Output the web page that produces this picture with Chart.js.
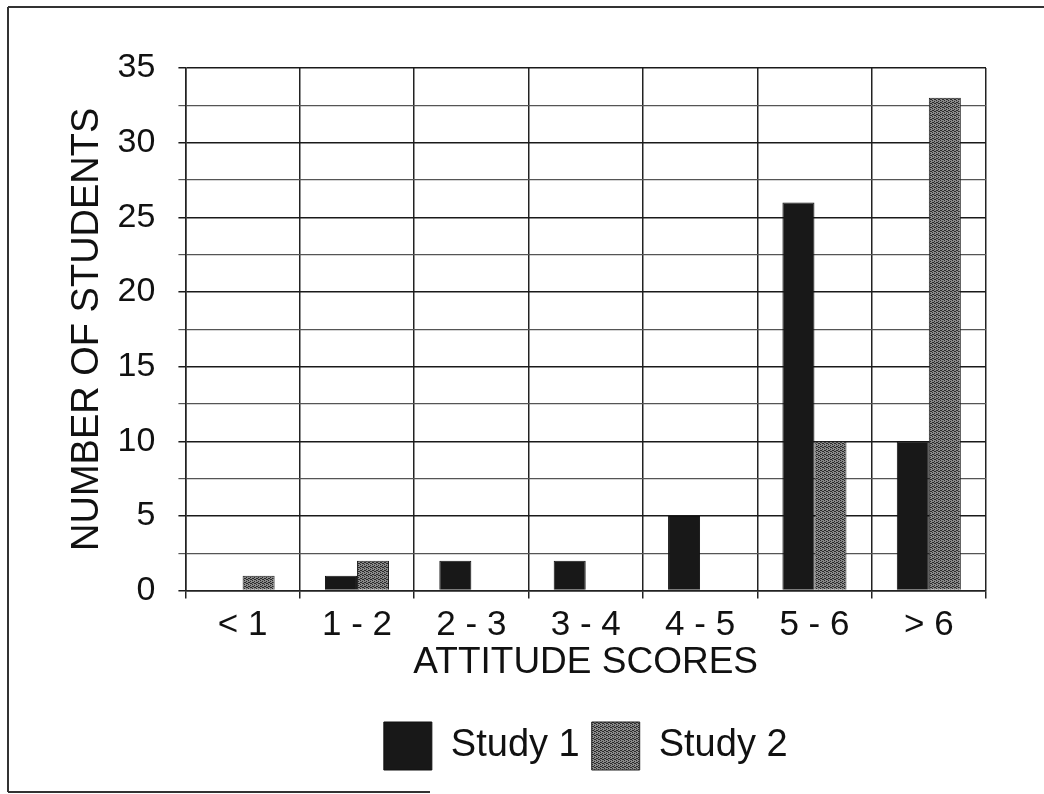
<!DOCTYPE html>
<html>
<head>
<meta charset="utf-8">
<script src="https://cdn.jsdelivr.net/npm/chart.js@4.4.1/dist/chart.umd.min.js"></script>
<style>
  html, body { margin: 0; padding: 0; background: #fff; }
  #wrap { position: relative; width: 1044px; height: 794px; }
  canvas { display: block; }
</style>
</head>
<body>
<div id="wrap"><canvas id="c" width="1044" height="794"></canvas></div>
<script>
const categories = ['< 1', '1 - 2', '2 - 3', '3 - 4', '4 - 5', '5 - 6', '> 6'];
const study1 = [0, 1, 2, 2, 5, 26, 10];
const study2 = [1, 2, 0, 0, 0, 10, 33];
const seriesNames = ['Study 1', 'Study 2'];
const yTitle = 'NUMBER OF STUDENTS';
const xTitle = 'ATTITUDE SCORES';

function makeStipple() {
  const p = document.createElement('canvas');
  p.width = 4; p.height = 4;
  const g = p.getContext('2d');
  g.fillStyle = '#8a8a8a';
  g.fillRect(0, 0, 4, 4);
  g.fillStyle = '#2a2a2a';
  const dots = [[0,0],[2,1],[1,2],[3,3],[2,3],[0,2]];
  dots.forEach(d => g.fillRect(d[0], d[1], 1, 1));
  return g.createPattern(p, 'repeat');
}
const ctx0 = document.getElementById('c').getContext('2d');
const stipple = makeStipple();

const framePlugin = {
  id: 'frame',
  beforeDraw(chart) {
    const g = chart.ctx;
    g.save();
    g.fillStyle = '#fff';
    g.fillRect(0, 0, chart.width, chart.height);
    g.strokeStyle = '#333';
    g.lineWidth = 2;
    g.beginPath();
    g.moveTo(8, 7); g.lineTo(chart.width, 7);
    g.moveTo(8, 7); g.lineTo(8, 792);
    g.moveTo(8, 792); g.lineTo(430, 792);
    g.stroke();
    g.restore();
  }
};

const font = 'Liberation Sans, Arial, sans-serif';

new Chart(ctx0, {
  type: 'bar',
  data: {
    labels: categories,
    datasets: [
      { label: seriesNames[0], data: study1, backgroundColor: '#181818', borderColor: '#111', borderWidth: 1 },
      { label: seriesNames[1], data: study2, backgroundColor: stipple, borderColor: '#222', borderWidth: 1 }
    ]
  },
  plugins: [framePlugin],
  options: {
    responsive: false,
    animation: false,
    devicePixelRatio: 1,
    datasets: { bar: { categoryPercentage: 0.56, barPercentage: 1.0 } },
    layout: { padding: { left: 65, right: 58, top: 68, bottom: 14 } },
    plugins: {
      tooltip: { enabled: false },
      legend: {
        position: 'bottom',
        fullSize: false,
        labels: {
          color: '#111',
          font: { family: font, size: 38 },
          boxWidth: 48,
          boxHeight: 48,
          padding: 12
        }
      }
    },
    scales: {
      x: {
        grid: { color: '#222', lineWidth: 1.5, tickLength: 8, offset: true },
        border: { color: '#222', width: 1.5 },
        ticks: { color: '#111', font: { family: font, size: 35 }, padding: 6, maxRotation: 0 },
        title: { display: true, text: xTitle, color: '#111', font: { family: font, size: 37 }, padding: { top: -12, bottom: 25 } }
      },
      y: {
        min: 0, max: 35,
        grid: {
          color: (c) => (c.tick && c.tick.value % 5 === 0) ? '#1a1a1a' : '#555',
          lineWidth: (c) => (c.tick && c.tick.value % 5 === 0) ? 1.5 : 1.2,
          tickLength: 7
        },
        border: { color: '#222', width: 1.5 },
        ticks: {
          stepSize: 2.5,
          maxTicksLimit: 20,
          autoSkip: false,
          color: '#111',
          font: { family: font, size: 34 },
          padding: 23,
          callback: (v) => (v % 5 === 0 ? v : '')
        },
        title: { display: true, text: yTitle, color: '#111', font: { family: font, size: 38 }, padding: { top: 0, bottom: -16 } }
      }
    }
  }
});
</script>
</body>
</html>
